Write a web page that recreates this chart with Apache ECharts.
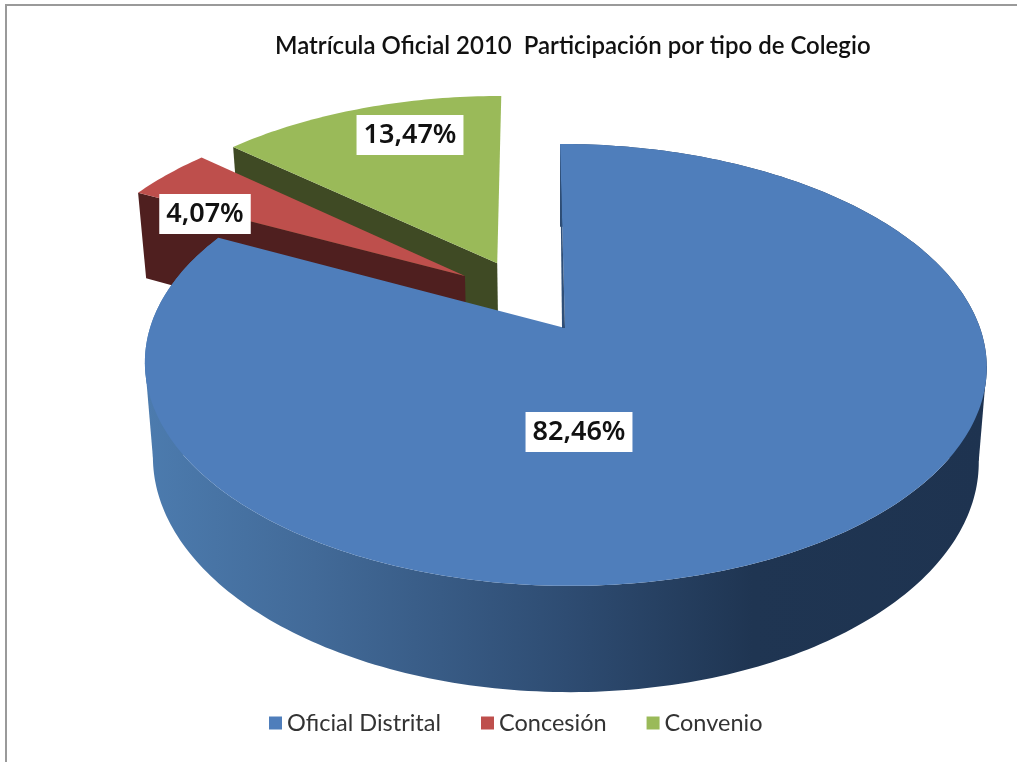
<!DOCTYPE html>
<html><head><meta charset="utf-8">
<style>html,body{margin:0;padding:0;background:#fff}#c{width:1017px;height:762px}</style>
<script src="https://cdn.jsdelivr.net/npm/echarts@6/dist/echarts.min.js"></script>
</head><body><div id="c"></div>
<script>
const titleText = 'Matrícula Oficial 2010  Participación por tipo de Colegio';
const categories = ['Oficial Distrital', 'Concesión', 'Convenio'];
const shares = [82.46, 4.07, 13.47];
const topColors = ['#4F7EBB', '#BE4F4C', '#9ABA59'];
const wallColors = [null, '#4F1F1F', '#3F4A24'];
const blueWallStops = [
  {offset: 0, color: '#4C7BAE'}, {offset: 0.2, color: '#426A98'},
  {offset: 0.5, color: '#2E4C72'}, {offset: 0.72, color: '#1F3552'}, {offset: 1, color: '#1E3350'}
];
// layout of the tilted pie (plane unit circle projected with perspective)
const view = {x0: 565, y0: 328, skew: 5, A: 415, B: 214.8, k: -0.167, depth: 92.6, shrink: 0.981};
const explode = [[0, 0], [-0.248, -0.252], [-0.168, -0.318]];
const labelAt = [[579, 432], [205, 214], [410, 135]];

const chart = echarts.init(document.getElementById('c'), null, {renderer: 'canvas'});
const total = shares.reduce((a, b) => a + b, 0);

function project(X, Y, low) {
  const w = 1 + view.k * Y;
  const s = low ? view.shrink : 1;
  return [view.x0 + view.skew * Y + s * view.A * X / w,
          view.y0 + (s * view.B * Y + (low ? view.depth : 0)) / w];
}
function makeRender(i) {
  return function (params, api) {
    const value = api.value(0);
    let before = 0;
    for (let j = 0; j < i; j++) before += shares[j];
    const a0 = before / total * 360, a1 = a0 + value / total * 360;
    const [dx, dy] = explode[i];
    const top = [], low = [];
    const n = Math.max(4, Math.ceil(a1 - a0));
    for (let t = 0; t <= n; t++) {
      const a = (a0 + (a1 - a0) * t / n) * Math.PI / 180;
      const X = dx + Math.sin(a), Y = dy - Math.cos(a);
      top.push(project(X, Y, false));
      low.push(project(X, Y, true));
    }
    const apexT = project(dx, dy, false), apexL = project(dx, dy, true);
    const wallFill = wallColors[i] || {type: 'linear', x: 146, y: 0, x2: 988, y2: 0, global: true, colorStops: blueWallStops};
    const poly = (pts, fill, z2) => ({type: 'polygon', shape: {points: pts}, z2: z2,
      style: {fill: fill, stroke: null}});
    const kids = [];
    // the rim wall only shows on slices that reach the near half of the pie
    if (a0 < 270 && a1 > 90) {
      kids.push(poly(top.concat(low.slice().reverse()), wallFill, 1));
      // silhouette bridges between top rim and lower rim
      [Math.max, Math.min].forEach(fn => {
        const xt = top.map(p => p[0]), xl = low.map(p => p[0]);
        const it = xt.indexOf(fn.apply(null, xt)), il = xl.indexOf(fn.apply(null, xl));
        if (it > 0 && it < n && il > 0 && il < n) {
          kids.push(poly([top[it], low[il], apexL, apexT], wallFill, 1));
        }
      });
    } else {
      kids.push(poly([apexT, top[0], low[0], apexL], wallFill, 2));
    }
    kids.push(poly([apexT].concat(top), topColors[i], 3));
    if (i === 0) {
      // thin dark sliver of the cut face along the blue slice's vertical edge
      kids.push(poly([top[0], apexT, [apexT[0] - 3, apexT[1]]], '#2F4F78', 4));
    }
    kids.push({type: 'text', z2: 10, x: labelAt[i][0], y: labelAt[i][1],
      style: {text: value.toFixed(2).replace('.', ',') + '%',
        font: '600 27px "Noto Sans"', fill: '#111', align: 'center', verticalAlign: 'middle',
        backgroundColor: '#fff', padding: [7, 7, 6, 7]}});
    return {type: 'group', children: kids};
  };
}
chart.setOption({
  animation: false,
  backgroundColor: '#fff',
  title: {text: titleText, left: 270, top: 29,
    textStyle: {fontFamily: 'Lato', fontWeight: 600, fontSize: 24, color: '#111'}},
  legend: {left: 264, top: 706, itemWidth: 13, itemHeight: 13, itemGap: 40, icon: 'rect',
    data: categories,
    textStyle: {fontFamily: 'Lato', fontSize: 23.5, color: '#333'}},
  graphic: [{type: 'polyline', silent: true, shape: {points: [[6, 762], [6, 5], [1017, 5]]},
    style: {stroke: '#9a9a9a', lineWidth: 2, fill: null}}],
  series: categories.map((name, i) => ({
    name: name, type: 'custom', coordinateSystem: 'none', silent: true,
    z: 4 - i + (i === 0 ? 1 : 0),
    itemStyle: {color: topColors[i]},
    renderItem: makeRender(i),
    data: [[shares[i]]]
  }))
});
</script></body></html>
